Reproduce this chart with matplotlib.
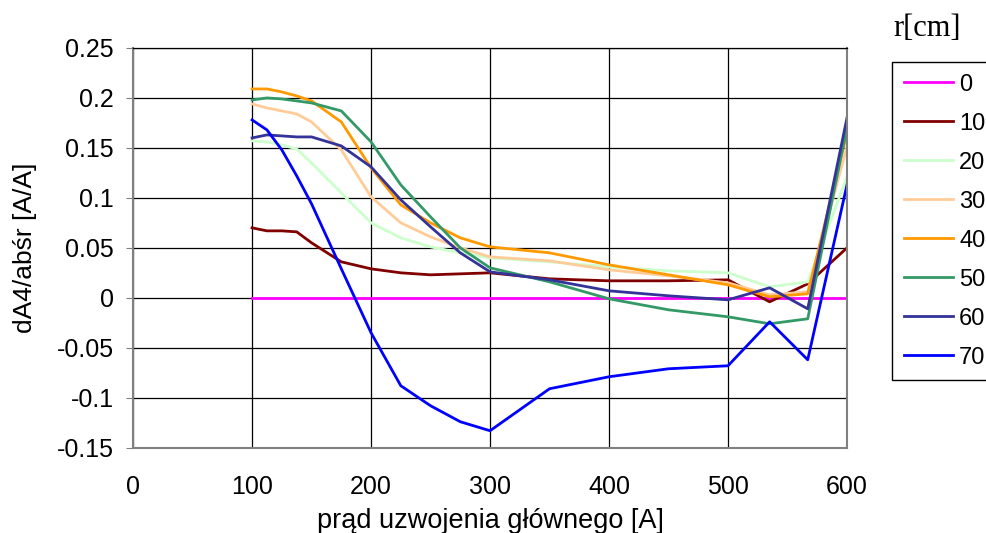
import matplotlib.pyplot as plt

# prąd uzwojenia głównego [A]
current = [100, 112.5, 125, 137.5, 150, 175, 200, 225, 250, 275, 300,
           350, 400, 450, 500, 535, 567, 600]

r0 = [0.0] * len(current)
r10 = [0.070, 0.067, 0.067, 0.066, 0.055, 0.036, 0.029, 0.025, 0.023, 0.024,
       0.025, 0.019, 0.017, 0.017, 0.018, -0.004, 0.014, 0.050]
r20 = [0.157, 0.156, 0.153, 0.149, 0.135, 0.105, 0.075, 0.060, 0.051, 0.045,
       0.040, 0.036, 0.031, 0.027, 0.025, 0.011, 0.016, 0.121]
r30 = [0.194, 0.190, 0.187, 0.184, 0.176, 0.148, 0.101, 0.075, 0.061, 0.050,
       0.041, 0.037, 0.028, 0.022, 0.015, 0.003, 0.006, 0.151]
r40 = [0.209, 0.209, 0.206, 0.202, 0.197, 0.176, 0.130, 0.093, 0.075, 0.060,
       0.051, 0.045, 0.033, 0.023, 0.013, 0.001, 0.004, 0.165]
r50 = [0.198, 0.200, 0.199, 0.197, 0.195, 0.187, 0.156, 0.113, 0.081, 0.050,
       0.030, 0.016, -0.001, -0.012, -0.019, -0.026, -0.021, 0.170]
r60 = [0.160, 0.163, 0.162, 0.161, 0.161, 0.152, 0.131, 0.098, 0.071, 0.045,
       0.026, 0.018, 0.007, 0.002, -0.002, 0.010, -0.011, 0.180]
r70 = [0.178, 0.168, 0.148, 0.122, 0.094, 0.029, -0.035, -0.088, -0.108, -0.124,
       -0.133, -0.091, -0.079, -0.071, -0.068, -0.024, -0.062, 0.113]

series = [r0, r10, r20, r30, r40, r50, r60, r70]
labels = ['0', '10', '20', '30', '40', '50', '60', '70']
colors = ['#FF00FF', '#800000', '#CCFFCC', '#FFCC99', '#FF9900',
          '#339966', '#333399', '#0000FF']

plt.rcParams['font.family'] = ['Liberation Sans', 'DejaVu Sans']

fig = plt.figure(figsize=(9.86, 5.33), dpi=100)
ax = fig.add_axes([0.135, 0.16, 0.724, 0.75])

for vals, lab, col in zip(series, labels, colors):
    ax.plot(current, vals, color=col, lw=2, label=lab)

ax.set_xlim(0, 600)
ax.set_ylim(-0.15, 0.25)
ax.set_xticks(range(0, 601, 100))
ax.set_yticks([-0.15, -0.1, -0.05, 0, 0.05, 0.1, 0.15, 0.2, 0.25])
ax.set_yticklabels(['-0.15', '-0.1', '-0.05', '0', '0.05', '0.1', '0.15', '0.2', '0.25'])
ax.grid(True, color='black', lw=0.9)
ax.set_axisbelow(True)
ax.tick_params(axis='y', direction='out', length=5, color='#808080', labelsize=18, pad=9)
ax.tick_params(axis='x', length=0, labelsize=18, pad=20)
for side in ['left', 'bottom', 'right']:
    ax.spines[side].set_color('#808080')
    ax.spines[side].set_linewidth(1.5)
ax.spines['top'].set_color('black')
ax.spines['top'].set_linewidth(0.9)

ax.set_xlabel('prąd uzwojenia głównego [A]', fontsize=19.5)
ax.set_ylabel('dA4/abśr [A/A]', fontsize=19)
ax.xaxis.set_label_coords(0.5, -0.152)
ax.yaxis.set_label_coords(-0.135, 0.5)

leg = fig.legend(loc='upper left', bbox_to_anchor=(0.905, 0.884), fontsize=17,
                 frameon=True, fancybox=False, edgecolor='black', framealpha=1,
                 handlelength=2.08, handletextpad=0.25, labelspacing=0.72,
                 borderpad=0.5, borderaxespad=0)
leg.get_frame().set_linewidth(1)

fig.text(0.906, 0.947, 'r[cm]', fontsize=22, family='Liberation Serif', va='center')

fig.savefig('out.png', dpi=100)
